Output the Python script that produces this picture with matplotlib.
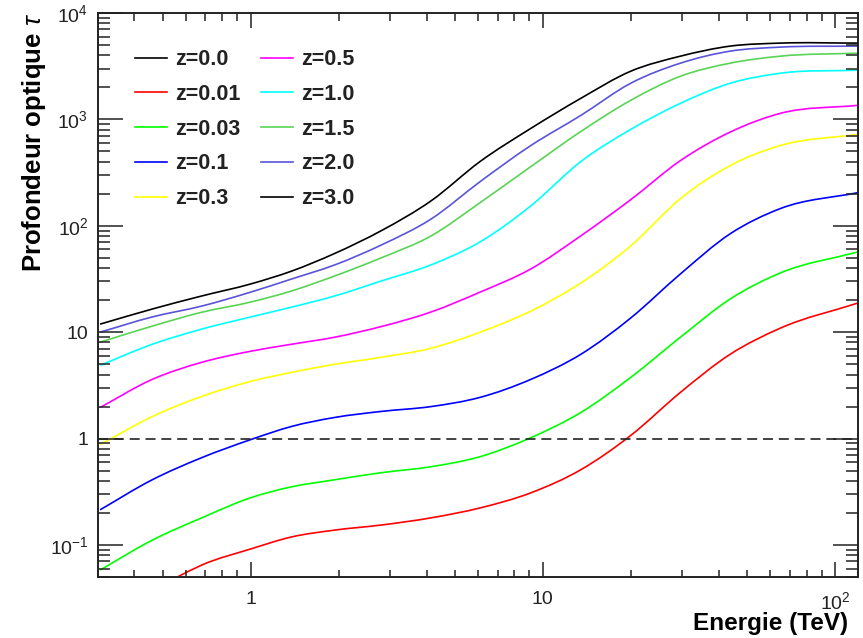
import matplotlib
matplotlib.use("Agg")
import numpy as np
import matplotlib.pyplot as plt
from matplotlib.path import Path
from matplotlib.patches import PathPatch
from matplotlib.ticker import LogLocator, NullFormatter

plt.rcParams['font.family'] = ['Liberation Sans', 'DejaVu Sans']
plt.rcParams['mathtext.fontset'] = 'custom'
plt.rcParams['mathtext.rm'] = 'Liberation Sans'
plt.rcParams['mathtext.it'] = 'Liberation Sans:italic'
plt.rcParams['mathtext.bf'] = 'Liberation Sans:bold'

# energies (TeV) where the curves were read
energie = [0.305, 0.46, 0.68, 1.0, 1.38, 1.94, 2.8, 4.15, 6.1, 9.1, 13.5, 20, 29.6, 43.8, 65, 120]
energie_z001 = [0.56, 0.68, 1.0, 1.38, 1.94, 2.8, 4.15, 6.1, 9.1, 13.5, 20, 29.6, 43.8, 65, 120]

# optical depth tau for each redshift
tau_z000 = []  # tau = 0, nothing to draw on a log axis
tau_z001 = [0.0499, 0.0648, 0.0917, 0.119, 0.138, 0.154, 0.180, 0.223, 0.309, 0.510, 1.07, 2.72, 6.20, 10.9, 18.8]
tau_z003 = [0.0581, 0.111, 0.180, 0.278, 0.352, 0.410, 0.478, 0.544, 0.676, 1.02, 1.76, 3.76, 8.97, 20.5, 36.0, 56.8]
tau_z01 = [0.214, 0.410, 0.662, 0.978, 1.30, 1.58, 1.80, 2.00, 2.44, 3.60, 6.20, 13.6, 35.3, 84.1, 145, 205]
tau_z03 = [0.878, 1.61, 2.49, 3.45, 4.19, 4.99, 5.81, 7.07, 10.0, 15.8, 29.0, 64.8, 180, 368, 568, 722]
tau_z05 = [1.96, 3.60, 5.21, 6.62, 7.70, 8.97, 11.3, 15.5, 23.8, 39.3, 80.5, 176, 410, 760, 1139, 1356]
tau_z10 = [4.88, 7.70, 10.7, 13.9, 17.2, 21.9, 30.3, 43.0, 70.6, 154, 402, 805, 1416, 2186, 2716, 2900]
tau_z15 = [8.05, 11.4, 15.4, 19.2, 24.4, 33.8, 50.0, 80.5, 165, 360, 770, 1511, 2545, 3376, 3929, 4195]
tau_z20 = [10.0, 13.9, 17.6, 23.8, 31.6, 42.9, 66.0, 116, 260, 568, 1091, 2186, 3376, 4380, 4778, 4884]
tau_z30 = [11.9, 16.5, 21.9, 28.4, 37.5, 55.0, 90.0, 172, 402, 823, 1578, 2837, 3929, 4884, 5212, 5212]

labels = ['z=0.0', 'z=0.01', 'z=0.03', 'z=0.1', 'z=0.3',
          'z=0.5', 'z=1.0', 'z=1.5', 'z=2.0', 'z=3.0']
couleurs = ['#000000', '#ff0000', '#00ff00', '#0000ff', '#ffff00',
            '#ff00ff', '#00ffff', '#59d454', '#5954d9', '#000000']

xticks = [1, 10, 100]
xticklabels = ['1', '10', '$10^{2}$']
yticks = [0.1, 1, 10, 100, 1000, 10000]
yticklabels = ['$10^{-1}$', '1', '10', '$10^{2}$', '$10^{3}$', '$10^{4}$']


def courbe_lisse(x, y):
    # smooth Bezier path through the read points (like ROOT's "C" option), built in log-log
    lx, ly = np.log10(x), np.log10(y)
    h = np.diff(lx)
    d = np.diff(ly) / h
    m = np.empty_like(lx)
    m[0], m[-1] = d[0], d[-1]
    m[1:-1] = (d[:-1] * h[1:] + d[1:] * h[:-1]) / (h[:-1] + h[1:])
    verts = [(lx[0], ly[0])]
    for i in range(len(h)):
        verts.append((lx[i] + h[i] / 3, ly[i] + m[i] * h[i] / 3))
        verts.append((lx[i + 1] - h[i] / 3, ly[i + 1] - m[i + 1] * h[i] / 3))
        verts.append((lx[i + 1], ly[i + 1]))
    codes = [Path.MOVETO] + [Path.CURVE4] * (3 * len(h))
    return Path(10 ** np.array(verts), codes)


def main():
    fig = plt.figure(figsize=(8.63, 6.38), dpi=100)
    ax = fig.add_axes([98 / 863, 61 / 638, 760 / 863, 564 / 638])

    series = [tau_z000, tau_z001, tau_z003, tau_z01, tau_z03,
              tau_z05, tau_z10, tau_z15, tau_z20, tau_z30]
    for i, (tau, lab, c) in enumerate(zip(series, labels, couleurs)):
        ax.plot([], [], color=c, lw=1.2, label=lab)
        if len(tau) == 0:
            continue
        x = energie_z001 if i == 1 else energie
        ax.add_patch(PathPatch(courbe_lisse(x, tau), fill=False, edgecolor=c, lw=1.2))

    # tau = 1
    ax.axhline(1, color='#222222', lw=1.2, ls=(0, (6, 3.5)))

    ax.set_xscale('log')
    ax.set_yscale('log')
    ax.set_xlim(0.3, 120)
    ax.set_ylim(0.05, 1e4)

    ax.set_xticks(xticks, xticklabels)
    ax.set_yticks(yticks, yticklabels)
    ax.xaxis.set_minor_locator(LogLocator(base=10, subs=range(2, 10), numticks=20))
    ax.yaxis.set_minor_locator(LogLocator(base=10, subs=range(2, 10), numticks=20))
    ax.xaxis.set_minor_formatter(NullFormatter())
    ax.yaxis.set_minor_formatter(NullFormatter())

    ax.tick_params(which='both', direction='in', top=True, right=True,
                   width=1.1, color='#222222', labelsize=14, labelcolor='#222222')
    ax.tick_params(axis='x', which='major', length=10.8, pad=10)
    ax.tick_params(axis='x', which='minor', length=5.4)
    ax.tick_params(axis='y', which='major', length=18, pad=7)
    ax.tick_params(axis='y', which='minor', length=8.6)
    for s in ax.spines.values():
        s.set_linewidth(1.4)
        s.set_color('#222222')

    ax.set_xlabel('Energie (TeV)', fontsize=17.5, fontweight='bold', loc='right')
    ax.xaxis.set_label_coords(750 / 760, -35 / 564)
    ax.set_ylabel(r'Profondeur optique $\tau$', fontsize=18.5, fontweight='bold', loc='top')
    ax.yaxis.set_label_coords(-50 / 760, 1.0)

    leg = ax.legend(ncol=2, loc='upper left', bbox_to_anchor=(37 / 760, 0.936),
                    frameon=False, borderpad=0, borderaxespad=0,
                    handlelength=1.5, handletextpad=0.37, columnspacing=0.95,
                    labelspacing=0.64, prop={'size': 15.5, 'weight': 'bold'})
    for t in leg.get_texts():
        t.set_color('#222222')

    fig.savefig('out.png', dpi=100)


if __name__ == "__main__":
    main()
